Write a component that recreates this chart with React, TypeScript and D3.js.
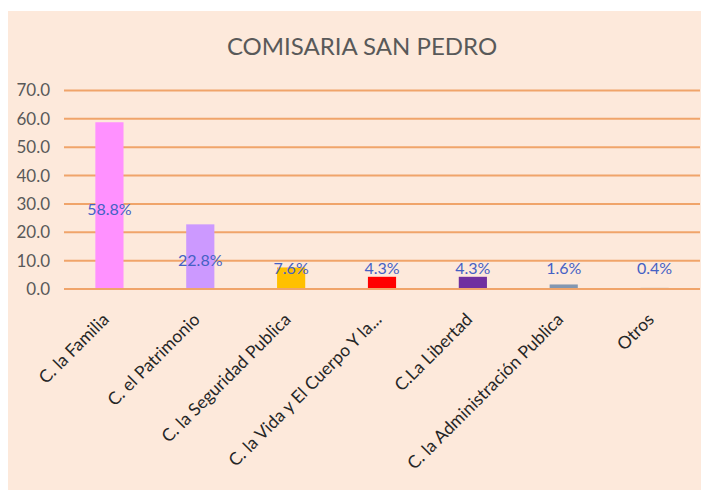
import React from 'react';
import * as d3 from 'd3';

const categories = [
  'C. la Familia',
  'C. el Patrimonio',
  'C. la Seguridad Publica',
  'C. la Vida y El Cuerpo Y la...',
  'C.La Libertad',
  'C. la Administración Publica',
  'Otros',
];
const values = [58.8, 22.8, 7.6, 4.3, 4.3, 1.6, 0.4];
const barColors = ['#FF91FF', '#CC99FF', '#FFC000', '#FF0000', '#7030A0', '#8497B0', '#A5A5A5'];
const yTicks = [0, 10, 20, 30, 40, 50, 60, 70];
const title = 'COMISARIA SAN PEDRO';

const W = 701;
const H = 490;
const FONT = "Lato, 'Open Sans', sans-serif";

const App = () => {
  const x = d3.scaleBand<string>()
    .domain(categories)
    .range([64, 700])
    .paddingInner(0.69)
    .paddingOuter(0.345);
  const y = d3.scaleLinear().domain([0, 70]).range([289, 90.5]);

  return (
    <svg width={W} height={H} style={{ position: 'absolute', left: 0, top: 0, background: '#fff' }}>
      <rect x={8} y={11} width={W - 8} height={H - 11} fill="#FDE9DB" />
      <text x={362} y={55} textAnchor="middle" fontFamily={FONT} fontSize={24} fill="#595959">
        {title}
      </text>

      {/* gridlines and y labels */}
      {yTicks.map(t => (
        <g key={t}>
          <line x1={64} x2={700} y1={y(t)} y2={y(t)} stroke="#F0A46A" strokeWidth={2} />
          <text x={50} y={y(t)} dy="0.35em" textAnchor="end" fontFamily={FONT} fontSize={17} fill="#595959">
            {t.toFixed(1)}
          </text>
        </g>
      ))}

      {/* bars */}
      {categories.map((c, i) => (
        <rect key={c} x={x(c)} y={y(values[i])} width={x.bandwidth()} height={y(0) - y(values[i])} fill={barColors[i]} />
      ))}
      <line x1={64} x2={700} y1={y(0)} y2={y(0)} stroke="#F0A46A" strokeWidth={2} />

      {/* value labels */}
      {categories.map((c, i) => {
        const mid = (y(values[i]) + y(0)) / 2 + 4;
        return (
          <text key={c} x={(x(c) ?? 0) + x.bandwidth() / 2} y={Math.min(mid, 268)} dy="0.35em"
            textAnchor="middle" fontFamily={FONT} fontSize={16} fill="#4561C4">
            {values[i].toFixed(1)}%
          </text>
        );
      })}

      {/* category labels */}
      {categories.map(c => (
        <text key={c} transform={`translate(${(x(c) ?? 0) + x.bandwidth() / 2 - 8},312) rotate(-45)`}
          dy="0.7em" textAnchor="end" fontFamily={FONT} fontSize={17.5} fill="#262626">
          {c}
        </text>
      ))}
    </svg>
  );
};

export default App;
